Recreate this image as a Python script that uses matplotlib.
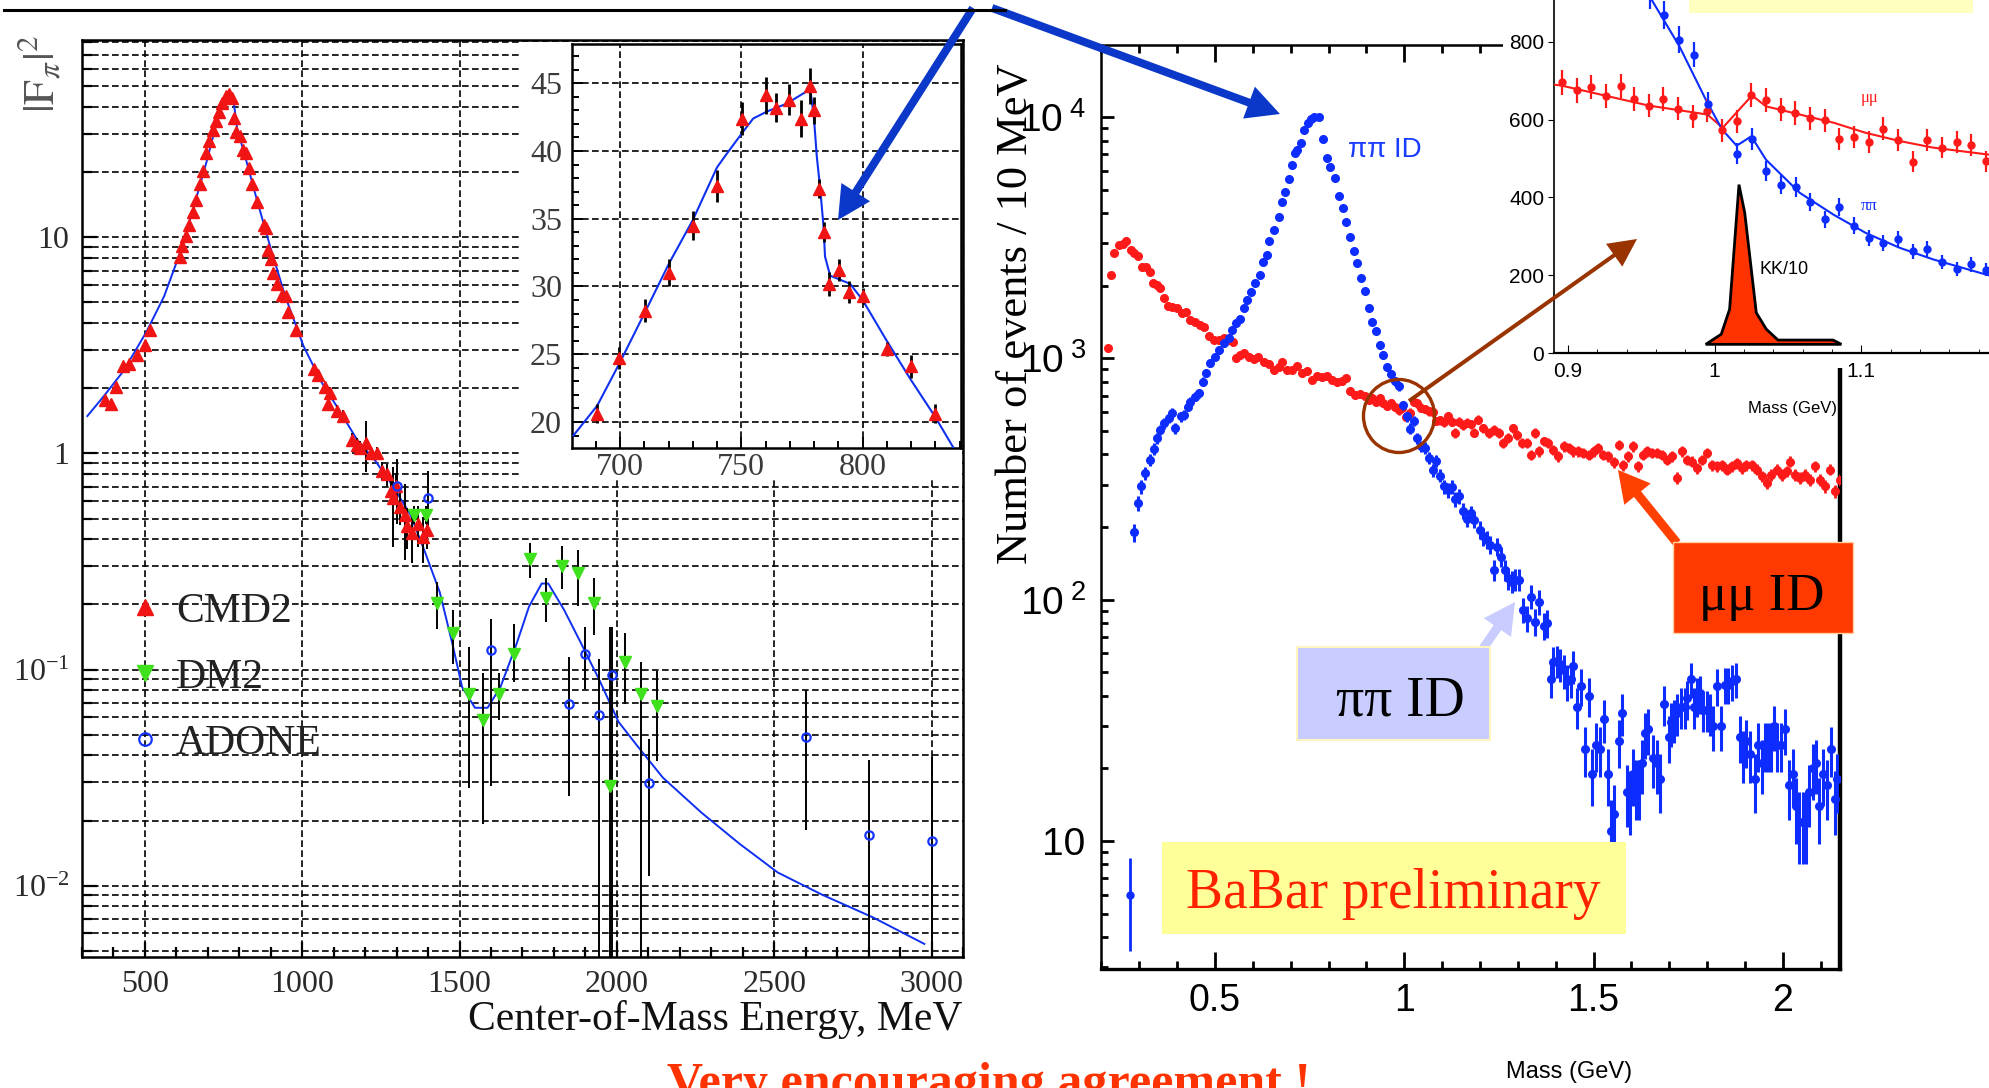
import numpy as np
import matplotlib
matplotlib.use("Agg")
import matplotlib.pyplot as plt
from matplotlib import font_manager as fm
from matplotlib.patches import Rectangle, Ellipse, FancyArrowPatch, ArrowStyle
from matplotlib.lines import Line2D
from matplotlib.ticker import MultipleLocator, LogLocator, FuncFormatter, NullFormatter

# ======================= DATA =======================
# ---- left panel: |F_pi|^2 vs centre-of-mass energy (MeV)
fit_E = [317, 369, 431, 505, 561, 607, 652, 697, 732, 755,
         771, 782, 793, 822, 856, 901, 946, 1004, 1061, 1118,
         1174, 1231, 1287, 1344, 1390, 1437, 1478, 1508, 1549, 1589,
         1630, 1680, 1721, 1761, 1782, 1832, 1883, 1944, 2005, 2066,
         2146, 2268, 2390, 2511, 2653, 2815, 2977]
fit_F = [1.49, 1.84, 2.40, 3.66, 5.34, 8.13, 13.3, 22.7, 35.8, 44.2,
         45.9, 42.5, 32.0, 22.7, 14.9, 8.77, 5.34, 3.14, 2.14, 1.58,
         1.16, 0.93, 0.71, 0.52, 0.35, 0.228, 0.130, 0.083, 0.0665, 0.0665,
         0.083, 0.130, 0.196, 0.25, 0.25, 0.189, 0.135, 0.0896, 0.0573, 0.0441,
         0.0316, 0.0218, 0.0156, 0.0115, 0.00906, 0.00711, 0.00537]

cmd2_E = [374, 391, 408, 431, 448, 476, 499, 516,
          612, 618, 629, 640, 652, 661, 675, 684, 695, 703,
          717, 726, 737, 746, 758, 768, 777, 783, 788, 802,
          811, 822, 830, 839, 856, 877, 885, 890, 902, 907,
          919, 936, 947, 956, 981, 1038, 1049, 1072, 1083, 1089,
          1112, 1129, 1157, 1174, 1185, 1202, 1219, 1236, 1253, 1270,
          1282, 1288, 1299, 1310, 1327, 1333, 1350, 1367, 1384, 1395]
cmd2_F = [1.77, 1.70, 2.02, 2.54, 2.59, 2.85, 3.19, 3.72,
          8.11, 9.10, 10.2, 11.4, 13.1, 14.9, 17.7, 20.2, 24.5, 28.0,
          31.4, 34.5, 37.9, 41.7, 45.0, 45.9, 44.2, 35.8, 30.8, 29.6,
          25.4, 24.5, 21.0, 17.7, 14.6, 11.4, 11.0, 8.75, 7.96, 6.84,
          6.10, 5.44, 5.34, 4.50, 3.72, 2.45, 2.31, 2.02, 1.70, 1.91,
          1.58, 1.49, 1.16, 1.10, 1.06, 1.12, 1.00, 1.00, 0.83, 0.80,
          0.67, 0.62, 0.71, 0.565, 0.52, 0.46, 0.43, 0.47, 0.41, 0.44]
cmd2_err = [0.08, 0.08, 0.09, 0.10, 0.10, 0.10, 0.12, 0.14,
            0.3, 0.3, 0.3, 0.35, 0.4, 0.45, 0.5, 0.6, 0.7, 0.8,
            0.9, 1.0, 1.1, 1.2, 1.3, 1.3, 1.3, 1.1, 1.0, 0.9,
            0.8, 0.8, 0.7, 0.6, 0.5, 0.4, 0.4, 0.3, 0.3, 0.25,
            0.22, 0.2, 0.2, 0.18, 0.15, 0.12, 0.12, 0.12, 0.1, 0.12,
            0.1, 0.1, 0.08, 0.08, 0.08, 0.3, 0.07, 0.07, 0.08, 0.09,
            0.08, 0.25, 0.1, 0.1, 0.2, 0.1, 0.12, 0.1, 0.1, 0.08]

dm2_E = [1356, 1392, 1427, 1478, 1529, 1575, 1626, 1674, 1725, 1776,
         1826, 1877, 1928, 1978, 2027, 2077, 2126]
dm2_F = [0.52, 0.52, 0.204, 0.148, 0.0773, 0.0583, 0.0773, 0.1186, 0.324, 0.215,
         0.301, 0.279, 0.204, 0.0288, 0.108, 0.0773, 0.0677]
dm2_lo = [0.05, 0.05, 0.05, 0.042, 0.049, 0.039, 0.019, 0.031, 0.06, 0.049,
          0.065, 0.083, 0.059, 0.025, 0.039, 0.073, 0.030]
dm2_hi = [0.05, 0.05, 0.051, 0.041, 0.050, 0.038, 0.019, 0.044, 0.06, 0.049,
          0.071, 0.077, 0.06, 0.128, 0.04, 0.031, 0.031]

adone_E = [1302, 1401, 1599, 1849, 1899, 1944, 1984, 2102, 2602, 2801, 3001]
adone_F = [0.71, 0.62, 0.123, 0.069, 0.1186, 0.0618, 0.0948, 0.0299, 0.0488, 0.0171, 0.0161]
adone_lo = [0.24, 0.2, 0.094, 0.043, 0.037, 0.058, 0.091, 0.0188, 0.0307, 0.013, 0.012]
adone_hi = [0.23, 0.21, 0.049, 0.045, 0.038, 0.050, 0.062, 0.0177, 0.0318, 0.021, 0.0234]

# ---- left inset (rho-omega region, linear)
ins_fit_E = [680.8, 690.6, 699.7, 710.3, 720.2, 730.0, 740.0, 744.0, 750.2, 754.9,
             760.4, 768.7, 776.9, 778.6, 779.9, 781.1, 782.4, 783.8, 784.5, 786.6,
             794.8, 800.0, 809.9, 819.9, 829.8, 837.4]
ins_fit_F = [19.0, 21.2, 24.3, 28.1, 31.7, 34.9, 38.8, 39.8, 41.3, 42.4,
             42.9, 43.5, 44.4, 44.3, 42.5, 39.6, 37.4, 34.6, 32.2, 30.8,
             30.2, 29.0, 26.0, 23.1, 20.4, 18.1]
ins_E = [690.6, 699.7, 710.3, 720.2, 730.0, 740.0, 750.2, 760.2, 764.3, 769.6, 774.5,
         778.3, 780.1, 782.2, 784.2, 786.0, 790.3, 794.4, 800.0, 810.2, 820.0, 829.8]
ins_F = [20.6, 24.7, 28.2, 31.0, 34.5, 37.4, 42.4, 44.1, 43.2, 43.8, 42.4,
         44.8, 43.0, 37.2, 34.0, 30.2, 31.2, 29.6, 29.3, 25.4, 24.1, 20.6]
ins_err = [0.7, 0.8, 0.85, 1.0, 1.07, 1.17, 1.2, 1.35, 1.05, 1.17, 1.35,
           1.35, 1.0, 0.7, 0.75, 0.9, 0.8, 0.8, 0.6, 0.5, 0.85, 0.7]

# ---- right panel: BaBar events / 10 MeV vs mass (GeV)
pipi_m = [0.287, 0.296, 0.305, 0.316, 0.328, 0.338, 0.347, 0.356, 0.366, 0.378,
          0.387, 0.395, 0.409, 0.417, 0.428, 0.435, 0.446, 0.457, 0.468, 0.477,
          0.488, 0.501, 0.510, 0.523, 0.536, 0.545, 0.556, 0.565, 0.578, 0.585,
          0.595, 0.607, 0.618, 0.627, 0.637, 0.644, 0.655, 0.668, 0.677, 0.686,
          0.695, 0.703, 0.712, 0.718, 0.727, 0.736, 0.745, 0.754, 0.762, 0.774,
          0.785, 0.796, 0.805, 0.818, 0.827, 0.838, 0.847, 0.856, 0.866, 0.875,
          0.886, 0.897, 0.906, 0.916, 0.925, 0.937, 0.945, 0.954, 0.965, 0.976,
          0.986, 0.996, 1.006, 1.016, 1.026, 1.035, 1.045, 1.055, 1.065, 1.075,
          1.085, 1.095, 1.105, 1.115, 1.125, 1.135, 1.145, 1.155, 1.165, 1.175,
          1.185, 1.201, 1.209, 1.218, 1.227, 1.236, 1.246, 1.255, 1.266, 1.275,
          1.284, 1.293, 1.304, 1.313, 1.324, 1.335, 1.346, 1.357, 1.368, 1.378,
          1.387, 1.394, 1.403, 1.412, 1.422, 1.431, 1.440, 1.447, 1.456, 1.466,
          1.478, 1.487, 1.496, 1.507, 1.517, 1.528, 1.538, 1.545, 1.555, 1.567,
          1.576, 1.588, 1.596, 1.604, 1.612, 1.621, 1.627, 1.636, 1.645, 1.656,
          1.667, 1.676, 1.686, 1.698, 1.704, 1.713, 1.721, 1.730, 1.742, 1.746,
          1.757, 1.765, 1.774, 1.781, 1.790, 1.799, 1.808, 1.816, 1.825, 1.837,
          1.847, 1.856, 1.865, 1.876, 1.887, 1.896, 1.904, 1.913, 1.926, 1.935,
          1.944, 1.953, 1.962, 1.970, 1.977, 1.985, 1.994, 2.006, 2.017, 2.026,
          2.035, 2.044, 2.052, 2.061, 2.070, 2.079, 2.088, 2.096, 2.105, 2.116,
          2.126, 2.138, 2.144]
pipi_n = [190, 252, 295, 335, 380, 421, 468, 506, 539, 566,
          593, 514, 575, 584, 632, 663, 695, 718, 802, 868,
          955, 1018, 1086, 1156, 1213, 1314, 1400, 1455, 1615, 1749,
          1893, 2050, 2220, 2520, 2685, 3078, 3407, 3869, 4463, 4909,
          5522, 6334, 7077, 7306, 7835, 8845, 9428, 9790, 10040, 10040,
          8090, 6795, 6197, 5580, 4715, 4191, 3691, 3178, 2790, 2482,
          2150, 1907, 1615, 1413, 1301, 1138, 1035, 920, 860, 805,
          767, 640, 575, 512, 551, 468, 433, 427, 388, 344,
          376, 327, 295, 284, 294, 262, 268, 234, 217, 228,
          215, 195, 183, 177, 169, 133, 166, 151, 133, 123,
          119, 121, 121, 91, 84, 103, 81, 98, 78, 80,
          47, 55, 56, 54, 51, 46, 47, 53, 36, 44,
          24, 40, 19, 25, 24, 32, 19, 11, 13, 26,
          34, 16, 15, 19, 17, 17, 21, 28, 29, 22,
          21, 18, 37, 27, 31, 32, 34, 36, 36, 39,
          47, 36, 40, 41, 35, 35, 34, 30, 44, 30,
          44.5, 44.5, 46, 47, 27, 23, 26, 23, 18, 25,
          21, 25, 25, 25, 30, 25, 25, 29, 17, 19,
          14, 12, 12, 12, 16, 20, 21, 14, 19, 17,
          24, 15, 18]
pipi_first_m = [0.275]
pipi_first_n = [6.0]
pipi_first_lo = [2.5]
pipi_first_hi = [2.5]

mumu_m = [0.217, 0.226, 0.234, 0.246, 0.257, 0.266, 0.277, 0.285, 0.296, 0.307,
          0.319, 0.328, 0.336, 0.347, 0.356, 0.366, 0.375, 0.387, 0.400, 0.413,
          0.424, 0.435, 0.448, 0.460, 0.472, 0.483, 0.497, 0.510, 0.523, 0.536,
          0.548, 0.556, 0.567, 0.578, 0.589, 0.602, 0.615, 0.629, 0.642, 0.655,
          0.668, 0.677, 0.690, 0.703, 0.717, 0.730, 0.743, 0.756, 0.769, 0.783,
          0.796, 0.809, 0.822, 0.835, 0.847, 0.857, 0.871, 0.884, 0.896, 0.906,
          0.916, 0.926, 0.936, 0.945, 0.955, 0.965, 0.975, 0.985, 0.995, 1.005,
          1.015, 1.025, 1.035, 1.045, 1.055, 1.065, 1.075, 1.085, 1.095, 1.105,
          1.115, 1.125, 1.135, 1.145, 1.155, 1.165, 1.175, 1.185, 1.196, 1.209,
          1.223, 1.236, 1.249, 1.260, 1.274, 1.287, 1.299, 1.311, 1.324, 1.334,
          1.346, 1.357, 1.368, 1.381, 1.394, 1.407, 1.421, 1.434, 1.447, 1.460,
          1.473, 1.487, 1.500, 1.513, 1.526, 1.539, 1.553, 1.566, 1.577, 1.592,
          1.605, 1.618, 1.630, 1.642, 1.654, 1.667, 1.680, 1.693, 1.706, 1.720,
          1.733, 1.746, 1.759, 1.772, 1.786, 1.799, 1.812, 1.825, 1.838, 1.852,
          1.865, 1.878, 1.891, 1.904, 1.918, 1.931, 1.944, 1.957, 1.970, 1.984,
          1.997, 2.010, 2.019, 2.032, 2.045, 2.058, 2.072, 2.085, 2.098, 2.111,
          2.124, 2.138, 2.151]
mumu_n = [1104, 2220, 2727, 2953, 2985, 3080, 2816, 2727, 2668, 2404,
          2404, 2291, 2063, 2016, 1953, 1778, 1653, 1631, 1615, 1549,
          1564, 1445, 1422, 1377, 1348, 1242, 1195, 1187, 1213, 1195,
          1175, 1002, 1035, 1052, 1018, 993, 1012, 970, 946, 897,
          920, 970, 897, 897, 926, 869, 883, 816, 842, 837,
          842, 816, 795, 810, 829, 730, 707, 713, 696, 675,
          683, 660, 686, 654, 636, 653, 628, 609, 623, 572,
          596, 662, 651, 626, 617, 604, 598, 551, 555, 543,
          577, 547, 492, 547, 528, 542, 534, 493, 557, 514,
          491, 506, 491, 446, 468, 514, 483, 446, 446, 399,
          491, 412, 453, 446, 419, 393, 432, 425, 412, 412,
          406, 399, 412, 425, 399, 393, 371, 439, 362, 393,
          432, 357, 399, 412, 406, 406, 399, 380, 393, 319,
          412, 380, 374, 351, 380, 406, 362, 357, 362, 346,
          357, 368, 351, 362, 362, 346, 325, 304, 330, 346,
          330, 340, 374, 330, 319, 330, 314, 357, 314, 295,
          346, 281, 314]

# ---- right inset (phi region, linear)
ins_mumu_m = [0.896, 0.906, 0.916, 0.926, 0.936, 0.945, 0.955, 0.965, 0.975, 0.985,
              0.995, 1.005, 1.015, 1.025, 1.035, 1.045, 1.055, 1.065, 1.075, 1.085,
              1.095, 1.105, 1.115, 1.125, 1.135, 1.145, 1.155, 1.165, 1.175, 1.185]
ins_mumu_n = [696, 675, 683, 660, 686, 654, 636, 653, 628, 609,
              623, 572, 596, 662, 651, 626, 617, 604, 598, 551,
              555, 543, 577, 547, 492, 547, 528, 542, 534, 493]
ins_pipi_m = [0.9557, 0.9657, 0.9757, 0.9857, 0.9957, 1.0155, 1.0255, 1.0352, 1.0452, 1.0552,
              1.0652, 1.0752, 1.085, 1.095, 1.105, 1.115, 1.125, 1.135, 1.145, 1.155,
              1.165, 1.175, 1.185]
ins_pipi_n = [920, 868, 805, 767, 640, 512, 551, 468, 433, 427,
              388, 344, 376, 327, 295, 284, 294, 262, 268, 234,
              217, 228, 215]
ins_mumu_fit_m = [0.890, 0.896, 0.955, 0.995, 1.0055, 1.0255, 1.035, 1.058, 1.081, 1.103, 1.126, 1.149, 1.187]
ins_mumu_fit_n = [690, 687, 636, 613, 579, 662, 634, 613, 592, 566, 545, 528, 510]
ins_pipi_fit_m = [0.957, 0.976, 0.994, 1.005, 1.015, 1.025, 1.035, 1.058, 1.081, 1.103, 1.126, 1.149, 1.187]
ins_pipi_fit_n = [908, 788, 651, 575, 533, 557, 497, 412, 356, 309, 271, 241, 200]
kk_m = [0.9939, 1.0045, 1.0102, 1.0166, 1.0205, 1.0284, 1.0352, 1.0432, 1.0807, 1.0864]
kk_n = [23, 49, 113, 433, 361, 104, 62, 34, 34, 23]

# ======================= STYLE / LAYOUT =======================
W, H = 1990, 1088
_names = {f.name for f in fm.fontManager.ttflist}
SERIF = ['Liberation Serif', 'DejaVu Serif']
SANS = (['Liberation Sans Narrow'] if 'Liberation Sans Narrow' in _names
        else ['Liberation Sans']) + ['DejaVu Sans']
plt.rcParams['font.family'] = SERIF
plt.rcParams['mathtext.fontset'] = 'stix'


def fbox(x0, y0, x1, y1):
    """pixel box (top-left origin) -> figure fraction rect"""
    return [x0 / W, 1 - y1 / H, (x1 - x0) / W, (y1 - y0) / H]


RED = '#f01414'
GREEN = '#3fe01c'
BLUE = '#1030f0'
PBLUE = '#0d2cff'
PRED = '#ff1a1a'
GRID = dict(color='black', linestyle=(0, (4, 2)), linewidth=1.2)

fig = plt.figure(figsize=(W / 100, H / 100), dpi=100)
fig.patch.set_facecolor('white')

# ----------------------------- left main panel
ax1 = fig.add_axes(fbox(82, 40, 963, 957))
ax1.set_yscale('log')
ax1.set_xlim(300, 3100)
ax1.set_ylim(0.00467, 82)
ax1.xaxis.set_major_locator(MultipleLocator(500))
ax1.xaxis.set_minor_locator(MultipleLocator(100))
ax1.yaxis.set_major_locator(LogLocator(10, numticks=12))
ax1.yaxis.set_minor_locator(LogLocator(10, subs=np.arange(2, 10), numticks=12))
ax1.yaxis.set_minor_formatter(NullFormatter())


def left_fmt(v, pos):
    e = int(round(np.log10(v)))
    if e == 1:
        return '10'
    if e == 0:
        return '1'
    return r'$\mathregular{10^{%d}}$' % e


ax1.yaxis.set_major_formatter(FuncFormatter(left_fmt))
ax1.grid(True, which='both', axis='y', **GRID)
ax1.grid(True, which='major', axis='x', **GRID)
ax1.tick_params(which='both', direction='in', labelsize=23, labelcolor='#2a2a2a', width=1.6)
ax1.tick_params(which='major', length=11, pad=9)
ax1.tick_params(which='minor', length=7)
for s in ax1.spines.values():
    s.set_linewidth(1.8)

ax1.plot(fit_E, fit_F, color=BLUE, lw=1.4, zorder=3)
ax1.errorbar(cmd2_E, cmd2_F, yerr=cmd2_err, fmt='^', color=RED, ms=8,
             ecolor='black', elinewidth=1.4, capsize=0, zorder=4)
ax1.errorbar(dm2_E, dm2_F, yerr=[dm2_lo, dm2_hi], fmt='v', color=GREEN, ms=8,
             ecolor='black', elinewidth=1.4, capsize=0, zorder=4)
ax1.errorbar(adone_E, adone_F, yerr=[adone_lo, adone_hi], fmt='o', mfc='none',
             mec='#1535ff', mew=1.6, ms=6, ecolor='black', elinewidth=1.4,
             capsize=0, zorder=4)

handles = [Line2D([], [], ls='none', marker='^', color=RED, ms=12),
           Line2D([], [], ls='none', marker='v', color=GREEN, ms=12),
           Line2D([], [], ls='none', marker='o', mfc='none', mec='#1535ff', mew=1.6, ms=9)]
leg = ax1.legend(handles, ['CMD2', 'DM2', 'ADONE'], loc='upper left',
                 bbox_to_anchor=(0.0568, 0.398), frameon=False, fontsize=30,
                 handlelength=0.6, handletextpad=0.45, labelspacing=0.66,
                 borderpad=0, borderaxespad=0)
for t in leg.get_texts():
    t.set_color('#222222')

ax1.set_xlabel('Center-of-Mass Energy, MeV', fontsize=30, color='#111111')
ax1.xaxis.set_label_coords(1.0, -0.047)
ax1.xaxis.label.set_horizontalalignment('right')
ax1.set_ylabel(r'$|\mathrm{F}_{\pi}|^{2}$', fontsize=32, color='#555555')
ax1.yaxis.set_label_coords(-0.021, 0.963)

# ----------------------------- left inset
fig.add_artist(Rectangle((522 / W, 1 - 478 / H), (961 - 522) / W, (478 - 42) / H,
                         transform=fig.transFigure, facecolor='white',
                         edgecolor='none', zorder=1))
ax2 = fig.add_axes(fbox(571.7, 44, 960.7, 447.7), zorder=2)
ax2.set_xlim(680.1, 840.4)
ax2.set_ylim(18.1, 47.9)
ax2.xaxis.set_major_locator(MultipleLocator(50))
ax2.xaxis.set_minor_locator(MultipleLocator(10))
ax2.yaxis.set_major_locator(MultipleLocator(5))
ax2.yaxis.set_minor_locator(MultipleLocator(1))
ax2.grid(True, which='major', **GRID)
ax2.tick_params(which='both', direction='in', labelsize=23, labelcolor='#3a3a3a', width=1.4)
ax2.tick_params(which='major', length=8, pad=7)
ax2.tick_params(which='minor', length=5)
ax2.tick_params(axis='x', pad=4)
for s in ax2.spines.values():
    s.set_linewidth(1.8)
ax2.plot(ins_fit_E, ins_fit_F, color=BLUE, lw=1.5, zorder=3)
ax2.errorbar(ins_E, ins_F, yerr=ins_err, fmt='^', color=RED, ms=9,
             ecolor='black', elinewidth=2.0, capsize=0, zorder=4)

# ----------------------------- right main panel
ax3 = fig.add_axes(fbox(1101, 45, 1840, 969))
ax3.set_yscale('log')
ax3.set_xlim(0.199, 2.151)
ax3.set_ylim(2.95, 19900)
ax3.xaxis.set_major_locator(MultipleLocator(0.5))
ax3.xaxis.set_minor_locator(MultipleLocator(0.1))
ax3.yaxis.set_major_locator(LogLocator(10, numticks=12))
ax3.yaxis.set_minor_locator(LogLocator(10, subs=np.arange(2, 10), numticks=12))
ax3.yaxis.set_minor_formatter(NullFormatter())


def right_fmt(v, pos):
    e = int(round(np.log10(v)))
    if e == 1:
        return '10'
    return r'$\mathregular{10^{\ %d}}$' % e


ax3.yaxis.set_major_formatter(FuncFormatter(right_fmt))
ax3.xaxis.set_major_formatter(FuncFormatter(lambda v, p: '%g' % round(v, 2)))
ax3.tick_params(axis='x', which='both', direction='in', top=True, bottom=True,
                width=2, labelsize=27, pad=10)
ax3.tick_params(axis='x', which='major', length=12)
ax3.tick_params(axis='x', which='minor', length=6)
ax3.tick_params(axis='y', which='both', direction='in', left=True, right=False,
                width=2, labelsize=28, pad=11)
ax3.tick_params(axis='y', which='major', length=9)
ax3.tick_params(axis='y', which='minor', length=5)
ax3.spines['right'].set_linewidth(3.2)
ax3.spines['bottom'].set_linewidth(2.4)
ax3.spines['left'].set_linewidth(1.8)
ax3.spines['top'].set_linewidth(1.8)
plt.setp(ax3.get_xticklabels(which='both') + ax3.get_yticklabels(which='both'),
         fontfamily=SANS)

ax3.errorbar(mumu_m, mumu_n, yerr=np.sqrt(mumu_n), fmt='o', ms=5.5, color=PRED,
             elinewidth=2.0, capsize=0, zorder=3)
ax3.errorbar(pipi_m, pipi_n, yerr=1.15 * np.sqrt(pipi_n), fmt='o', ms=5.5,
             color=PBLUE, elinewidth=2.2, capsize=0, zorder=4)
ax3.errorbar(pipi_first_m, pipi_first_n, yerr=[pipi_first_lo, pipi_first_hi],
             fmt='o', ms=5, color=PBLUE, elinewidth=2.0, capsize=0, zorder=4)
ax3.text(0.852, 6840, 'ππ ID', color='#1a3cff', fontsize=20, family=SANS,
         va='baseline', ha='left')

ax3.set_xlabel('Mass (GeV)', fontsize=17, family=SANS)
ax3.xaxis.set_label_coords(0.633, -0.1)
ax3.set_ylabel('Number of events / 10 MeV', fontsize=32, family=SERIF)
ax3.yaxis.set_label_coords(-0.088, 0.709)

# ----------------------------- right inset
fig.add_artist(Rectangle((1503 / W, 1 - 368 / H), (W - 1503) / W, 368 / H,
                         transform=fig.transFigure, facecolor='white',
                         edgecolor='none', zorder=1))
ax4 = fig.add_axes(fbox(1554, 0, 1990, 353.3), zorder=2)
ax4.set_xlim(0.8905, 1.1877)
ax4.set_ylim(0, 907)
ax4.spines['top'].set_visible(False)
ax4.spines['right'].set_visible(False)
ax4.spines['left'].set_linewidth(1.2)
ax4.spines['bottom'].set_linewidth(1.6)
ax4.xaxis.set_major_locator(MultipleLocator(0.1))
ax4.xaxis.set_minor_locator(MultipleLocator(0.02))
ax4.yaxis.set_major_locator(MultipleLocator(200))
ax4.xaxis.set_major_formatter(FuncFormatter(lambda v, p: '%g' % round(v, 2)))
ax4.tick_params(axis='x', which='both', direction='in', labelsize=15, pad=6)
ax4.tick_params(axis='x', which='major', length=6)
ax4.tick_params(axis='x', which='minor', length=3)
ax4.tick_params(axis='y', direction='out', length=4, labelsize=15, pad=3)
plt.setp(ax4.get_xticklabels(which='both') + ax4.get_yticklabels(which='both'),
         fontfamily=SANS)
ax4.fill(kk_m, kk_n, facecolor='#ff3300', edgecolor='black', lw=2, zorder=2)
ax4.plot(ins_mumu_fit_m, ins_mumu_fit_n, color=PRED, lw=1.5, zorder=3)
ax4.plot(ins_pipi_fit_m, ins_pipi_fit_n, color=PBLUE, lw=1.5, zorder=3)
ax4.errorbar(ins_mumu_m, ins_mumu_n, yerr=1.2 * np.sqrt(ins_mumu_n), fmt='o', ms=5,
             color=PRED, elinewidth=1.6, capsize=0, zorder=4)
ax4.errorbar(ins_pipi_m, ins_pipi_n, yerr=1.2 * np.sqrt(ins_pipi_n), fmt='o', ms=5,
             color=PBLUE, elinewidth=1.6, capsize=0, zorder=4)
ax4.text(1.1056, 656, 'μμ', color=PRED, fontsize=12, ha='center', va='center', family=SERIF)
ax4.text(1.1056, 379, 'ππ', color=PBLUE, fontsize=12, ha='center', va='center', family=SERIF)
ax4.text(1.0306, 215, 'KK/10', fontsize=13, ha='left', va='center', family=SANS)
ax4.set_xlabel('Mass (GeV)', fontsize=12, family=SANS)
ax4.xaxis.set_label_coords((1793 - 1554) / 436, -0.135)

# ----------------------------- overlay (slide decorations)
ov = fig.add_axes([0, 0, 1, 1], zorder=10)
ov.set_xlim(0, W)
ov.set_ylim(H, 0)
ov.axis('off')
ov.patch.set_visible(False)


def arrow(tail, tip, color, tw, hw, hl):
    st = ArrowStyle.Simple(head_length=hl * 0.72, head_width=hw * 0.72, tail_width=tw * 0.72)
    ov.add_patch(FancyArrowPatch(tail, tip, arrowstyle=st, mutation_scale=1,
                                 color=color, lw=0, shrinkA=0, shrinkB=0))


ov.add_line(Line2D([4, 1005], [10, 10], color='black', lw=2.2))
arrow((973, 8), (838, 220), '#0b38c8', 8, 34, 33)
arrow((992, 8), (1280, 114), '#0b38c8', 8, 34, 33)

# brown circle + arrow
ov.add_patch(Ellipse((1399, 416), 71, 73, fill=False, ec='#993300', lw=2.4))
arrow((1409, 401), (1637, 239), '#993300', 4, 28, 28)

# mu-mu box and arrow
arrow((1677, 543), (1618, 470), '#ff4000', 9, 34, 31)
ov.add_patch(Rectangle((1673, 542), 180, 91, facecolor='#ff3a00', edgecolor='#ffd0a0', lw=1))
ov.text(1762, 610, 'μμ ID', ha='center', va='baseline', fontsize=38, family=SERIF, color='black')

# pi-pi box and arrow
arrow((1482, 650), (1515, 602), '#c8ccff', 9, 33, 31)
ov.add_patch(Rectangle((1297, 647), 193, 93, facecolor='#c8ccff', edgecolor='#fff4c0', lw=1.5))
ov.text(1400, 716, 'ππ ID', ha='center', va='baseline', fontsize=40, family=SERIF, color='black')

# BaBar preliminary box
ov.add_patch(Rectangle((1162, 842), 464, 92, facecolor='#ffff99', edgecolor='none'))
ov.text(1393, 908, 'BaBar preliminary', ha='center', va='baseline', fontsize=40,
        family=SERIF, color='#ff2200')

# top-right cut yellow box
ov.add_patch(Rectangle((1689, -5), 284, 17.7, facecolor='#ffffc0', edgecolor='none'))

# bottom caption
ov.text(989, 1097, 'Very encouraging agreement !', ha='center', va='baseline',
        fontsize=36, fontweight='bold', family=SERIF, color='#ff3300')

fig.savefig('out.png', dpi=100, facecolor='white')
